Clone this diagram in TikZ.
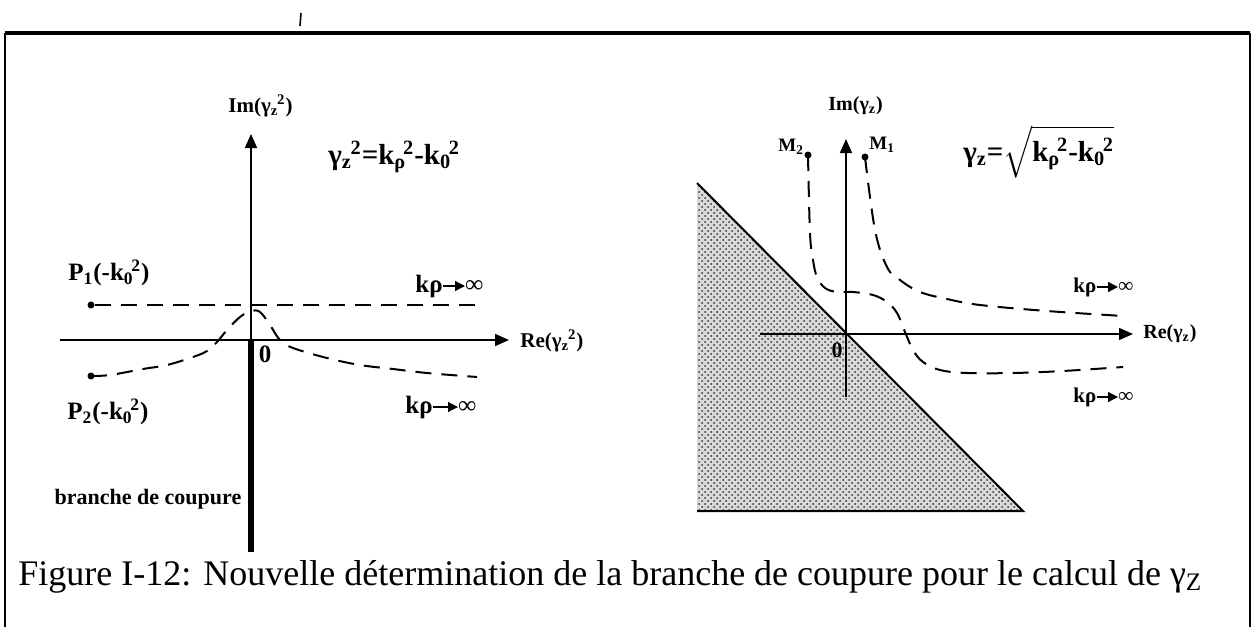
\documentclass[tikz,border=0pt]{standalone}
\usepackage{fontspec}
\setmainfont{Liberation Serif}
\usepackage{amsmath}
\usetikzlibrary{arrows.meta,patterns}
\newcommand\SubSup[2]{\rlap{\textsubscript{#1}}\kern0.3em\textsuperscript{#2}}
\begin{document}
\begin{tikzpicture}[x=0.5pt,y=-0.5pt,
  axis/.style={line width=0.8pt,-{Triangle[length=7pt,width=6pt]}},
  dashline/.style={line width=1pt,dash pattern=on 8pt off 5pt},
  dot/.style={circle,fill=black,inner sep=0pt,minimum size=3.5pt},
  lab/.style={font=\bfseries\fontsize{12.5}{14}\selectfont,inner sep=0pt},
  smalllab/.style={font=\bfseries\fontsize{10.5}{12}\selectfont,inner sep=0pt},
  tinylab/.style={font=\bfseries\fontsize{9.5}{11}\selectfont,inner sep=0pt},
  eq/.style={font=\bfseries\fontsize{14.5}{16}\selectfont,inner sep=0pt},
  karrow/.style={line width=0.6pt,-{Triangle[length=5pt,width=5pt]}}
]
\useasboundingbox (0,0) rectangle (1254,627);
% frame
\coordinate (FTL) at (5,33);
\coordinate (FTR) at (1250,33);
\coordinate (FBL) at (5,627);
\coordinate (FBR) at (1250,627);
\draw[line width=1.8pt] (FTL) -- (FTR);
\draw[line width=1pt] (FTL) -- (FBL);
\draw[line width=1pt] (FTR) -- (FBR);
\coordinate (tickA) at (301,13);
\coordinate (tickB) at (300,26);
\draw[line width=0.8pt] (tickA) -- (tickB);

% ---------- left diagram ----------
\coordinate (LO) at (251,340);
\coordinate (LxS) at (60,340);
\coordinate (LxE) at (509,340);
\coordinate (LyE) at (251,134);
\coordinate (Lcut) at (251,552);
\draw[axis] (LxS) -- (LxE);
\draw[axis] (LO) -- (LyE);
\draw[line width=3pt] (LO) -- (Lcut);
\node[dot] (P1) at (91,305) {};
\coordinate (P1e) at (480,305);
\draw[dashline] (P1) -- (P1e);
\node[dot] (P2) at (91,376) {};
\draw[dashline] plot[smooth,tension=0.6] coordinates {(P2.center) (110,375) (143,369) (167,365) (193,357) (207,351) (217,342) (227,330) (240,317) (251,311) (260,312) (270,325) (280,340) (293,348) (327,358) (360,365) (393,369) (427,373) (477,377)};

\node[lab,anchor=west] (P1l) at (68,273) {P\textsubscript{1}(-k\SubSup{0}{2})};
\node[lab,anchor=west] (P2l) at (67,412) {P\textsubscript{2}(-k\SubSup{0}{2})};
\node[lab] (L0l) at (265,354) {0};
\node[smalllab,anchor=west] (Lim) at (228,106) {Im(γ\SubSup{z}{2})};
\node[eq,anchor=west] (Leq) at (328,157) {γ\SubSup{z}{2}=k\SubSup{ρ}{2}-k\SubSup{0}{2}};
\node[smalllab,anchor=west] (Lre) at (520,341) {Re(γ\SubSup{z}{2})};
\node[lab,font=\bfseries\fontsize{11}{13}\selectfont] (Lbr) at (148,499) {branche de coupure};

\node[lab,anchor=west] (k1) at (415,286) {kρ};
\node[lab,anchor=west] (i1) at (465,286) {∞};
\draw[karrow] (k1) -- (i1);
\node[lab,anchor=west] (k2) at (405,407) {kρ};
\node[lab,anchor=west] (i2) at (458,407) {∞};
\draw[karrow] (k2) -- (i2);

% ---------- right diagram ----------
\fill[gray!30] (697,183) -- (697,511) -- (1023,511) -- cycle;
\fill[pattern=crosshatch dots,pattern color=black!80] (697,183) -- (697,511) -- (1023,511) -- cycle;
\draw[line width=1pt] (697,183) -- (1023,511) -- (697,511);
\coordinate (RO) at (846,334);
\coordinate (RxS) at (760,334);
\coordinate (RxE) at (1133,334);
\coordinate (RyS) at (846,397);
\coordinate (RyE) at (846,139);
\draw[axis] (RxS) -- (RxE);
\draw[axis] (RyS) -- (RyE);

\node[dot] (M2) at (808,155) {};
\node[dot] (M1) at (865,157) {};
\draw[dashline] plot[smooth,tension=0.6] coordinates {(M2.center) (810,233) (813,260) (817,277) (825,288) (837,292) (853,292) (873,295) (887,302) (897,313) (905,332) (913,350) (923,362) (940,370) (967,373) (1013,373) (1063,371) (1123,367)};
\draw[dashline] plot[smooth,tension=0.6] coordinates {(M1.center) (875,230) (887,267) (900,280) (920,292) (947,299) (980,305) (1047,311) (1123,316)};

\node[tinylab,anchor=west] (M2l) at (778,147) {M\textsubscript{2}};
\node[tinylab,anchor=west] (M1l) at (869,145) {M\textsubscript{1}};
\node[smalllab,font=\bfseries\fontsize{10}{12}\selectfont,anchor=west] (Rim) at (828,106) {Im(γ\textsubscript{z})};
\node[eq,anchor=west] (Req) at (963,152) {γ\textsubscript{z}=$\sqrt{\hbox{\bfseries\fontsize{14.5}{16}\selectfont k\SubSup{ρ}{2}-k\SubSup{0}{2}}}$};
\node[smalllab,font=\bfseries\fontsize{10}{12}\selectfont,anchor=west] (Rre) at (1143,334) {Re(γ\textsubscript{z})};
\node[lab,font=\bfseries\fontsize{11}{13}\selectfont] (R0l) at (837,350) {0};

\node[smalllab,anchor=west] (k3) at (1073,287) {kρ};
\node[smalllab,anchor=west] (i3) at (1118,287) {∞};
\draw[karrow] (k3) -- (i3);
\node[smalllab,anchor=west] (k4) at (1073,397) {kρ};
\node[smalllab,anchor=west] (i4) at (1118,397) {∞};
\draw[karrow] (k4) -- (i4);

% caption
\node[font=\fontsize{18}{20}\selectfont,anchor=west,inner sep=0pt] (cap) at (18,577) {Figure I-12: Nouvelle détermination de la branche de coupure pour le calcul de γ\textsubscript{Z}};
\end{tikzpicture}
\end{document}
